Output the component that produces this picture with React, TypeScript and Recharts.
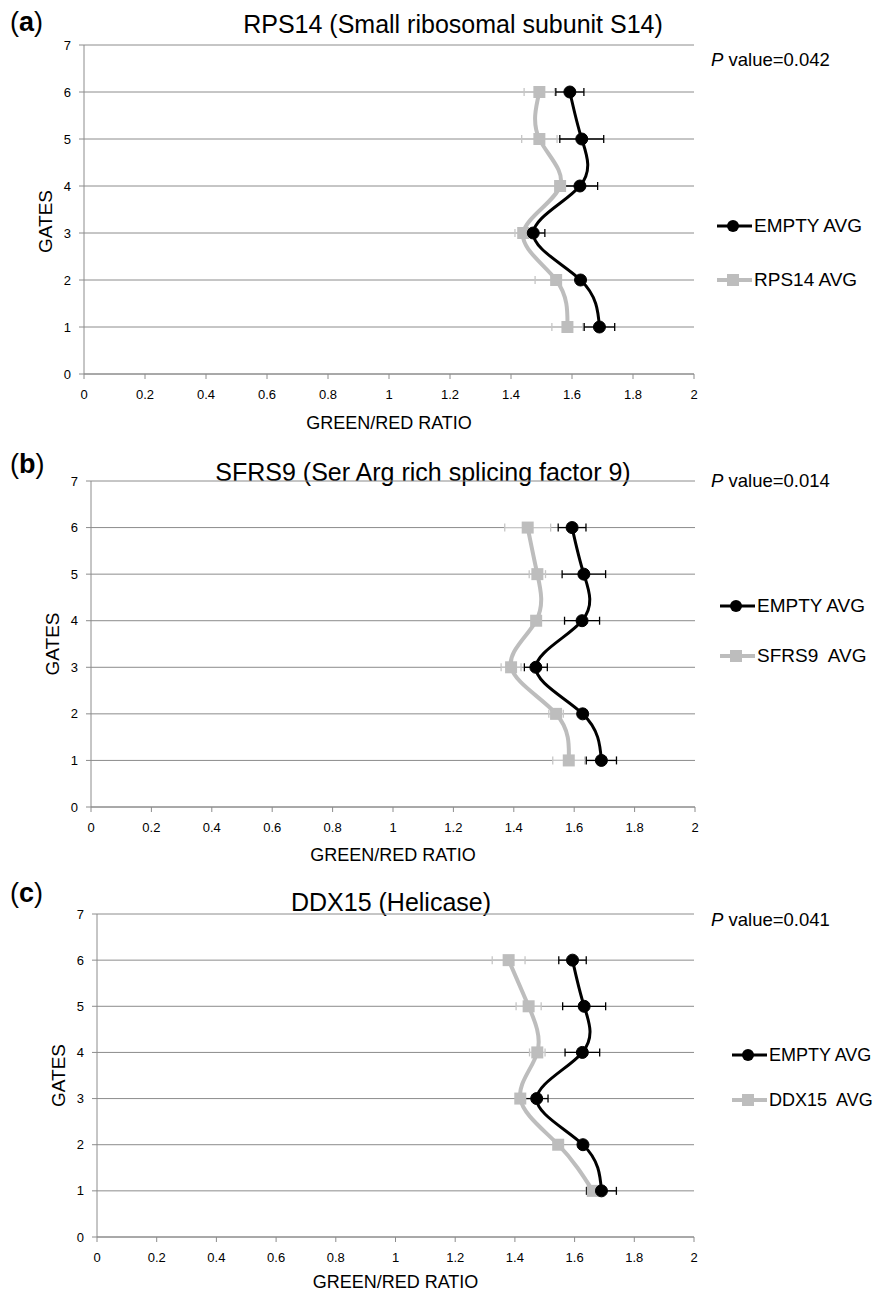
import React from "react";
import { ComposedChart, Line, XAxis, YAxis, CartesianGrid, ErrorBar, Legend } from "recharts";

const GATES = [1, 2, 3, 4, 5, 6];
const X_TICKS = [0, 0.2, 0.4, 0.6, 0.8, 1, 1.2, 1.4, 1.6, 1.8, 2];
const Y_TICKS = [0, 1, 2, 3, 4, 5, 6, 7];

// control, same in all three panels
const EMPTY_AVG = [1.69, 1.628, 1.473, 1.626, 1.632, 1.593];
const EMPTY_ERR = [0.05, 0.01, 0.038, 0.058, 0.072, 0.046];

const RPS14_AVG = [1.585, 1.548, 1.44, 1.561, 1.493, 1.493];
const RPS14_ERR = [0.051, 0.069, 0.027, 0.01, 0.058, 0.05];

const SFRS9_AVG = [1.582, 1.54, 1.391, 1.474, 1.478, 1.446];
const SFRS9_ERR = [0.053, 0.024, 0.033, 0.01, 0.027, 0.076];

const DDX15_AVG = [1.661, 1.545, 1.418, 1.475, 1.446, 1.379];
const DDX15_ERR = [0.022, 0.01, 0.01, 0.026, 0.042, 0.055];

const FONT = "'Liberation Sans', Arial, sans-serif";
const GRID = "#8c8c8c";
const GREY = "#bdbdbd";

type Box = { left: number; right: number; top: number; bottom: number };

type PanelProps = {
  top: number;
  height: number;
  plot: Box;
  letter: string;
  letterY: number;
  title: string;
  titleX: number;
  titleY: number;
  pY: number;
  pValue: string;
  name: string;
  avg: number[];
  err: number[];
  legendY: [number, number];
  legendX: number;
  legendFont: number;
  gatesDy: number;
  xLabelOffset: number;
};

const SquareDot = (props: any) => {
  const { cx, cy, index } = props;
  if (cx == null || cy == null) return null;
  return <rect key={`sq-${index}`} x={cx - 6} y={cy - 6} width={12} height={12} fill={GREY} />;
};

function Panel(p: PanelProps) {
  const data = GATES.map((g, i) => ({
    gate: g,
    empty: EMPTY_AVG[i],
    emptyErr: EMPTY_ERR[i],
    sample: p.avg[i],
    sampleErr: p.err[i],
  }));
  const yAxisW = 60;
  const xAxisH = p.height - p.plot.bottom;

  const gatesLabel = (lp: any) => {
    const vb = lp.viewBox;
    const x = vb.x + vb.width - 39;
    const y = vb.y + vb.height / 2 + p.gatesDy;
    return (
      <text x={x} y={y} transform={`rotate(-90, ${x}, ${y})`} textAnchor="middle" dominantBaseline="central" fontSize={19} fill="#000" fontFamily={FONT}>
        GATES
      </text>
    );
  };

  const legendContent = () => (
    <div style={{ fontFamily: FONT, fontSize: p.legendFont, color: "#000" }}>
      <div style={{ display: "flex", alignItems: "center", height: 20, position: "absolute", top: 0, left: 0, whiteSpace: "pre" }}>
        <svg width={35} height={14}>
          <line x1={0} x2={35} y1={7} y2={7} stroke="#000" strokeWidth={3} />
          <circle cx={16} cy={7} r={6} fill="#000" />
        </svg>
        <span style={{ marginLeft: 2 }}>EMPTY AVG</span>
      </div>
      <div style={{ display: "flex", alignItems: "center", height: 20, position: "absolute", top: p.legendY[1] - p.legendY[0], left: 0, whiteSpace: "pre" }}>
        <svg width={35} height={14}>
          <line x1={0} x2={35} y1={7} y2={7} stroke={GREY} strokeWidth={4} />
          <rect x={10} y={1} width={12} height={12} fill={GREY} />
        </svg>
        <span style={{ marginLeft: 2 }}>{p.name}</span>
      </div>
    </div>
  );

  return (
    <div style={{ position: "absolute", left: 0, top: p.top, width: 876, height: p.height }}>
      <div style={{ position: "absolute", left: 10, top: p.letterY - 16, fontFamily: FONT, fontSize: 27, lineHeight: "32px" }}>
        (<b>{p.letter}</b>)
      </div>
      <div
        style={{
          position: "absolute",
          left: p.titleX - 300,
          width: 600,
          textAlign: "center",
          top: p.titleY - 15,
          fontFamily: FONT,
          fontSize: 25,
          lineHeight: "30px",
          whiteSpace: "nowrap",
        }}
      >
        {p.title}
      </div>
      <ComposedChart
        width={876}
        height={p.height}
        data={data}
        layout="vertical"
        margin={{ top: p.plot.top, right: 876 - p.plot.right, bottom: 0, left: p.plot.left - yAxisW }}
        style={{ fontFamily: FONT }}
      >
        <CartesianGrid vertical={false} stroke={GRID} strokeWidth={1} />
        <XAxis
          type="number"
          domain={[0, 2]}
          ticks={X_TICKS}
          interval={0}
          height={xAxisH}
          tickSize={5}
          tickMargin={11}
          tick={{ fontSize: 13, fill: "#000" }}
          tickLine={{ stroke: GRID }}
          axisLine={{ stroke: GRID }}
          label={{ value: "GREEN/RED RATIO", position: "insideTop", offset: p.xLabelOffset, fontSize: 18, fill: "#000" }}
        />
        <YAxis
          type="number"
          dataKey="gate"
          domain={[0, 7]}
          ticks={Y_TICKS}
          reversed
          interval={0}
          width={yAxisW}
          tickSize={5}
          tickMargin={8}
          tick={{ fontSize: 13, fill: "#000" }}
          tickLine={{ stroke: GRID }}
          axisLine={{ stroke: GRID }}
          label={{ content: gatesLabel }}
        />
        <Line
          dataKey="sample"
          type="natural"
          stroke={GREY}
          strokeWidth={4}
          dot={SquareDot}
          activeDot={false}
          isAnimationActive={false}
        >
          <ErrorBar dataKey="sampleErr" direction="x" width={4} stroke="#c6c6c6" strokeWidth={1.3} />
        </Line>
        <Line
          dataKey="empty"
          type="natural"
          stroke="#000"
          strokeWidth={3}
          dot={{ r: 6, fill: "#000", stroke: "#000", strokeWidth: 1 }}
          activeDot={false}
          isAnimationActive={false}
        >
          <ErrorBar dataKey="emptyErr" direction="x" width={4} stroke="#000" strokeWidth={1.3} />
        </Line>
        <Legend
          layout="vertical"
          align="center"
          verticalAlign="middle"
          content={legendContent}
          wrapperStyle={{ left: p.legendX, top: p.legendY[0] - 10, width: 150, height: 80 }}
        />
      </ComposedChart>
      <div style={{ position: "absolute", left: 711, top: p.pY - 11, fontFamily: FONT, fontSize: 18.5, lineHeight: "22px", whiteSpace: "nowrap" }}>
        <i>P</i> value={p.pValue}
      </div>
    </div>
  );
}

export default function App() {
  return (
    <div style={{ position: "absolute", left: 0, top: 0, width: 876, height: 1294, background: "#fff", overflow: "hidden" }}>
      <Panel
        top={0}
        height={433}
        plot={{ left: 84, right: 694, top: 45, bottom: 374 }}
        letter="a"
        letterY={22}
        title="RPS14 (Small ribosomal subunit S14)"
        titleX={453}
        titleY={24}
        pY={60}
        pValue="0.042"
        name="RPS14 AVG"
        avg={RPS14_AVG}
        err={RPS14_ERR}
        legendX={717}
        legendY={[226, 280]}
        legendFont={19}
        gatesDy={12}
        xLabelOffset={42}
      />
      <Panel
        top={433}
        height={433}
        plot={{ left: 91, right: 695, top: 48, bottom: 374 }}
        letter="b"
        letterY={31}
        title="SFRS9 (Ser Arg rich splicing factor 9)"
        titleX={423}
        titleY={39}
        pY={48}
        pValue="0.014"
        name="SFRS9  AVG"
        avg={SFRS9_AVG}
        err={SFRS9_ERR}
        legendX={720}
        legendY={[173, 223]}
        legendFont={19}
        gatesDy={0}
        xLabelOffset={41}
      />
      <Panel
        top={866}
        height={428}
        plot={{ left: 97, right: 694, top: 48, bottom: 371 }}
        letter="c"
        letterY={27}
        title="DDX15 (Helicase)"
        titleX={391}
        titleY={36}
        pY={54}
        pValue="0.041"
        name="DDX15  AVG"
        avg={DDX15_AVG}
        err={DDX15_ERR}
        legendX={732}
        legendY={[189, 234]}
        legendFont={18}
        gatesDy={0}
        xLabelOffset={38}
      />
    </div>
  );
}
